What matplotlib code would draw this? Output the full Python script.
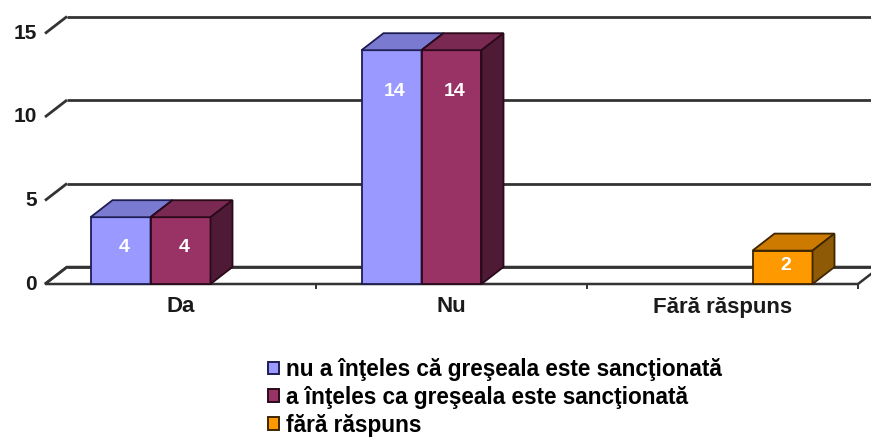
import matplotlib.pyplot as plt
from matplotlib.patches import Polygon, Patch

plt.rcParams['font.family'] = ['Liberation Sans', 'DejaVu Sans']
plt.rcParams['font.weight'] = 'bold'

categories = ["Da", "Nu", "Fără răspuns"]
series_names = [
    "nu a înţeles că greşeala este sancţionată",
    "a înţeles ca greşeala este sancţionată",
    "fără răspuns",
]
values_nu_inteles = [4, 14, 0]
values_inteles = [4, 14, 0]
values_fara = [0, 0, 2]
yticks = [0, 5, 10, 15]

# front / top / side / edge shades for each series
palette = [
    ("#9999FF", "#7A7AD0", "#5C5C9E", "#1E1E55"),
    ("#993366", "#7A2952", "#4E1A35", "#2A0A1A"),
    ("#FF9900", "#CC7A00", "#8F5A05", "#3D2600"),
]

W, H = 871, 441
fig = plt.figure(figsize=(W / 100, H / 100), dpi=100)
x0, x1 = 45, 858          # front plane, pixels
y_base = 284              # value 0 at the front, pixels from top
px_per_unit = 16.7
ymax = 16.0
ax = fig.add_axes([x0 / W, (H - y_base) / H, (x1 - x0) / W,
                   ymax * px_per_unit / H])
ax.set_xlim(0, len(categories))
ax.set_ylim(0, ymax)
ax.axis("off")

cat_px = (x1 - x0) / len(categories)
dx = 22 / cat_px                 # depth offset, x units
dy = 17 / px_per_unit            # depth offset, value units
bar_w = 60 / cat_px

line_kw = dict(color="#333333", lw=2.0, clip_on=False, solid_capstyle="butt")

# back wall gridlines and their diagonals to the front
for v in yticks:
    ax.plot([0, dx], [v, v + dy], **line_kw)
    ax.plot([dx, len(categories) + dx + 0.2], [v + dy, v + dy], **line_kw)
    ax.text(-8 / cat_px, v, str(v), ha="right", va="center",
            fontsize=15, fontweight="bold", color="#1a1a1a")

# floor outline
n = len(categories)
floor = Polygon([(0, 0), (n, 0), (n + dx, dy), (dx, dy)], closed=True,
                facecolor="white", edgecolor="#333333", lw=1.8, clip_on=False,
                zorder=1)
ax.add_patch(floor)
for i in range(1, n + 1):
    ax.plot([i, i], [0, -0.25], color="#333333", lw=1.4, clip_on=False)

all_series = [values_nu_inteles, values_inteles, values_fara]
for ci in range(n):
    for si, vals in enumerate(all_series):
        v = vals[ci]
        if v <= 0:
            continue
        front, top, side, edge = palette[si]
        left = ci + 0.5 + (si - 1.5) * bar_w
        right = left + bar_w
        z = 3 + ci * 3 + si
        ax.add_patch(Polygon([(left, 0), (right, 0), (right, v), (left, v)],
                             facecolor=front, edgecolor=edge, lw=1.3,
                             zorder=z, clip_on=False))
        ax.add_patch(Polygon([(left, v), (right, v), (right + dx, v + dy),
                              (left + dx, v + dy)],
                             facecolor=top, edgecolor=edge, lw=1.3,
                             zorder=z, clip_on=False))
        ax.add_patch(Polygon([(right, 0), (right + dx, dy),
                              (right + dx, v + dy), (right, v)],
                             facecolor=side, edgecolor=edge, lw=1.3,
                             zorder=z, clip_on=False))
        label_y = v - min(v * 0.45, 2.5)
        ax.text((left + right) / 2 + dx * 0.15, label_y, str(v),
                ha="center", va="center", color="white", fontsize=14,
                fontweight="bold", zorder=z + 0.5)

for ci, name in enumerate(categories):
    ax.text(ci + 0.5, -23 / px_per_unit, name, ha="center", va="center",
            fontsize=16, fontweight="bold", color="#1a1a1a")

handles = [Patch(facecolor=palette[i][0], edgecolor=palette[i][3], lw=1.4)
           for i in range(3)]
fig.legend(handles, series_names, loc="upper left",
           bbox_to_anchor=(268 / W, 1 - 358 / H), frameon=False,
           handlelength=0.5, handleheight=0.5,
           handletextpad=0.3, labelspacing=0.22, borderpad=0,
           borderaxespad=0,
           prop=dict(family=['Liberation Sans', 'DejaVu Sans'],
                     weight="bold", size=16.3))

fig.savefig("out.png", dpi=100, facecolor="white")
